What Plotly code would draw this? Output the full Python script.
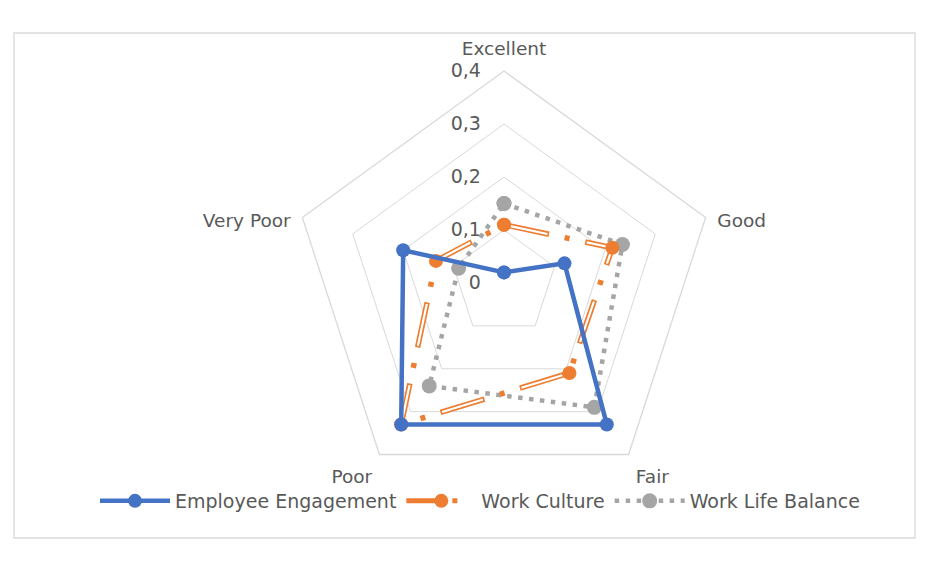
import plotly.graph_objects as go

categories = ["Excellent", "Good", "Fair", "Poor", "Very Poor"]
category_labels = ["Excellent", "<br>Good", "Fair", "Poor", "<br>Very Poor"]
employee_engagement = [0.02, 0.12, 0.33, 0.33, 0.20]
work_culture = [0.11, 0.215, 0.21, 0.33, 0.135]
work_life_balance = [0.15, 0.235, 0.29, 0.24, 0.09]
radial_ticks = [0, 0.1, 0.2, 0.3, 0.4]
radial_tick_labels = ["0", "0,1", "0,2", "0,3", "0,4"]

BLUE = "#4472C4"
ORANGE = "#ED7D31"
GRAY = "#A5A5A5"
TXT = "#595959"
GRID = "#D9D9D9"
FONT = "DejaVu Sans, sans-serif"

def closed(v):
    return list(v) + [v[0]]

cats = closed(categories)

fig = go.Figure()

# Work Life Balance (grey dotted)
fig.add_trace(go.Scatterpolar(
    r=closed(work_life_balance), theta=cats, mode="lines+markers",
    name="Work Life Balance", line=dict(color=GRAY, width=4.5, dash="4.5px,6.5px"),
    marker=dict(color=GRAY, size=15), legendrank=3))

# Work Culture (orange hollow long-dash-dot)
fig.add_trace(go.Scatterpolar(
    r=closed(work_culture), theta=cats, mode="lines",
    line=dict(color=ORANGE, width=5.5, dash="46px,16px,5px,16px"),
    showlegend=False, hoverinfo="skip"))
fig.add_trace(go.Scatterpolar(
    r=closed(work_culture), theta=cats, mode="lines",
    line=dict(color="white", width=2.2, dash="0px,1.6px,42.8px,38.6px"),
    showlegend=False, hoverinfo="skip"))
fig.add_trace(go.Scatterpolar(
    r=closed(work_culture), theta=cats, mode="markers",
    name="Work Culture", marker=dict(color=ORANGE, size=14), showlegend=False))

# Employee Engagement (blue solid)
fig.add_trace(go.Scatterpolar(
    r=closed(employee_engagement), theta=cats, mode="lines+markers",
    name="Employee Engagement", line=dict(color=BLUE, width=4.5),
    marker=dict(color=BLUE, size=14), legendrank=1))

# legend entry for Work Culture
fig.add_trace(go.Scatterpolar(
    r=[None], theta=[categories[0]], mode="lines+markers",
    name="Work Culture", line=dict(color=ORANGE, width=5, dash="34px,12px,5px,20px"),
    marker=dict(color=ORANGE, size=14), legendrank=2))

W, H = 944, 564
OFF = 8  # browser body margin
cx, cy, R = 504 - OFF, 283 - OFF, 212

fig.update_layout(
    width=W, height=H,
    margin=dict(l=0, r=0, t=0, b=0),
    paper_bgcolor="white", plot_bgcolor="white",
    separators=", ",
    font=dict(family=FONT, color=TXT, size=18),
    polar=dict(
        domain=dict(x=[(cx - R) / W, (cx + R) / W], y=[(H - cy - R) / H, (H - cy + R) / H]),
        bgcolor="white",
        gridshape="linear",
        angularaxis=dict(
            rotation=90, direction="clockwise",
            tickvals=categories, ticktext=category_labels,
            showgrid=False, showline=True, linecolor=GRID, linewidth=1.3,
            ticks="outside", ticklen=8, tickcolor="rgba(0,0,0,0)",
            tickfont=dict(size=18.5, color=TXT, family=FONT),
        ),
        radialaxis=dict(
            range=[0, 0.4], tickvals=radial_ticks, ticktext=radial_tick_labels,
            angle=90, tickangle=90, side="counterclockwise",
            showline=False, gridcolor=GRID, gridwidth=1.3,
            ticks="outside", ticklen=16, tickcolor="rgba(0,0,0,0)",
            tickfont=dict(size=19, color=TXT, family=FONT),
        ),
    ),
    legend=dict(
        orientation="h", x=0.5, xanchor="center", y=1 - (501 - OFF) / H, yanchor="middle",
        font=dict(size=19, color=TXT, family=FONT), itemwidth=70,
        traceorder="normal", bgcolor="rgba(0,0,0,0)",
    ),
    shapes=[dict(type="rect", xref="paper", yref="paper",
                 x0=(14 - OFF) / W, x1=(915 - OFF) / W,
                 y0=1 - (538 - OFF) / H, y1=1 - (33 - OFF) / H,
                 line=dict(color=GRID, width=1.3), fillcolor="rgba(0,0,0,0)", layer="below")],
)

fig.write_html("out.html")
